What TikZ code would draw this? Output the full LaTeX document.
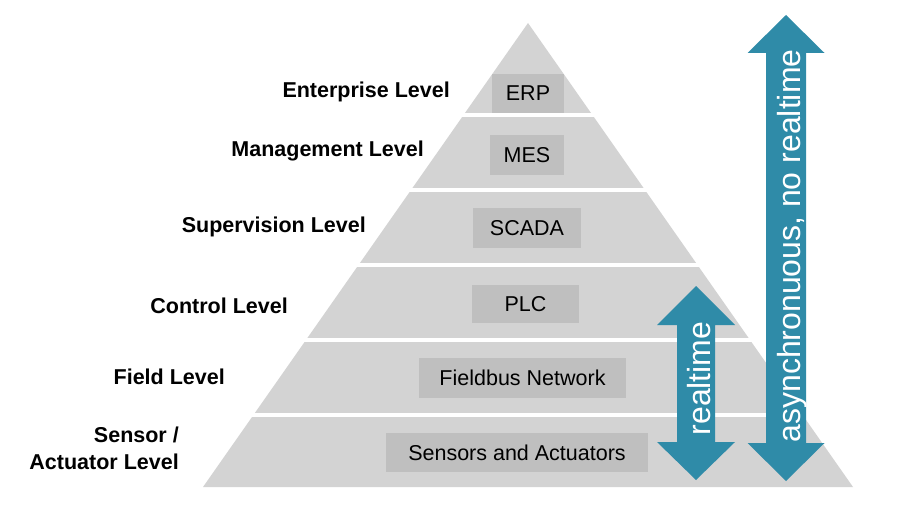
\documentclass[tikz,border=0pt]{standalone}
\usepackage{fontspec}
\setmainfont{Liberation Sans}
\definecolor{bandgray}{HTML}{D3D3D3}
\definecolor{boxgray}{HTML}{BFBFBF}
\definecolor{arrowblue}{RGB}{47,139,168}
\begin{document}
\begin{tikzpicture}[x=1pt,y=-1pt,
  lvl/.style={font=\fontsize{21.5}{27}\selectfont\bfseries, inner sep=0pt},
  sysbox/.style={fill=boxgray, inner sep=0pt, font=\fontsize{21.5}{26}\selectfont},
  arrtext/.style={rotate=90, text=white, inner sep=0pt, font=\fontsize{32}{38}\selectfont},
  gap/.style={fill=white}]
\useasboundingbox (0,0) rectangle (915,524);
% pyramid
\fill[bandgray] (528,23) -- (853,487) -- (203,487) -- cycle;
\foreach \yy in {115,190,265,340,415}
  \fill[gap] (150,\yy-2.25) rectangle (900,\yy+2.25);
% system boxes
\node[sysbox, minimum width=72pt, minimum height=39pt] (erp) at (528,93.5) {ERP};
\node[sysbox, minimum width=74pt, minimum height=40pt] (mes) at (527,155) {MES};
\node[sysbox, minimum width=108pt, minimum height=40pt] (scada) at (527,228) {SCADA};
\node[sysbox, minimum width=107pt, minimum height=38pt] (plc) at (525.5,304) {PLC};
\node[sysbox, minimum width=207pt, minimum height=40pt] (fieldbus) at (522.5,378) {Fieldbus Network};
\node[sysbox, minimum width=262pt, minimum height=39pt] (sensors) at (517,452.5) {Sensors and Actuators};
% level labels
\node[lvl, anchor=base east] (lent) at (450,98) {Enterprise Level};
\node[lvl, anchor=base east] (lman) at (424,156) {Management Level};
\node[lvl, anchor=base east] (lsup) at (366,232) {Supervision Level};
\node[lvl, anchor=base east] (lcon) at (288,313) {Control Level};
\node[lvl, anchor=base east] (lfie) at (225,384) {Field Level};
\node[lvl, anchor=east, align=right] (lsen) at (179,448) {Sensor /\\Actuator Level};
% arrows
\fill[arrowblue] (786,15) -- (824.5,53) -- (806,53) -- (806,443) -- (824.5,443) -- (786,481)
  -- (747.5,443) -- (766,443) -- (766,53) -- (747.5,53) -- cycle;
\fill[arrowblue] (696,286) -- (735,325) -- (715,325) -- (715,442) -- (735,442) -- (696,480)
  -- (657,442) -- (677,442) -- (677,325) -- (657,325) -- cycle;
\node[arrtext, anchor=base] (async) at (800,246) {asynchronuous, no realtime};
\node[arrtext, anchor=base] (rt) at (710,378.5) {realtime};
\end{tikzpicture}
\end{document}
